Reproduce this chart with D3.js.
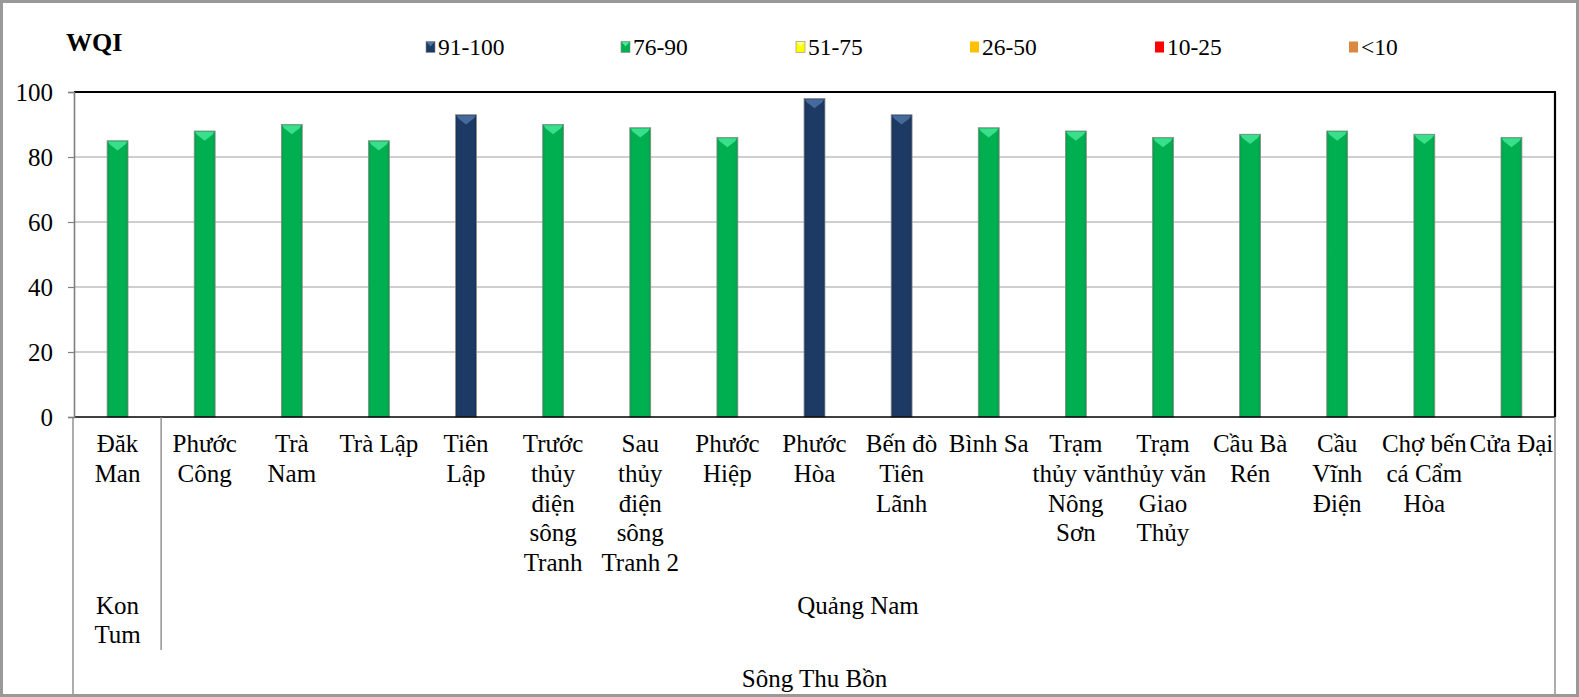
<!DOCTYPE html>
<html>
<head>
<meta charset="utf-8">
<script src="https://cdn.jsdelivr.net/npm/d3@7"></script>
<style>
  html, body { margin: 0; padding: 0; background: #fff; }
  svg { display: block; }
  svg text { font-family: "Liberation Serif", "Times New Roman", serif !important; fill: #000; }
</style>
</head>
<body>
<svg id="chart" width="1579" height="697"></svg>
<script>
// ---- data ----
const categories = [
  "Đăk\nMan", "Phước\nCông", "Trà\nNam", "Trà Lập", "Tiên\nLập",
  "Trước\nthủy\nđiện\nsông\nTranh", "Sau\nthủy\nđiện\nsông\nTranh 2",
  "Phước\nHiệp", "Phước\nHòa", "Bến đò\nTiên\nLãnh", "Bình Sa",
  "Trạm\nthủy văn\nNông\nSơn", "Trạm\nthủy văn\nGiao\nThủy",
  "Cầu Bà\nRén", "Cầu\nVĩnh\nĐiện", "Chợ bến\ncá Cẩm\nHòa", "Cửa Đại"
];
const wqiValues = [85, 88, 90, 85, 93, 90, 89, 86, 98, 93, 89, 88, 86, 87, 88, 87, 86];
const provinceNames = ["Kon\nTum", "Quảng Nam"];
const provinceSpans = [1, 16];
const riverName = "Sông Thu Bồn";
const legendLabels = ["91-100", "76-90", "51-75", "26-50", "10-25", "<10"];
const legendMins = [91, 76, 51, 26, 10, 0];
const yTicks = [0, 20, 40, 60, 80, 100];
const yTitle = "WQI";

(function () {
// ---- styles ----
const FONT = '"Liberation Serif", "Times New Roman", serif';
const classFill = ["#1D3A64", "#00B050", "#FFFF00", "#FFC000", "#FF0000", "#DA8740"];
const classBevel = ["#4E73A6", "#44E896", "#FFFF99", null, null, null];
const beveled = [true, true, true, false, false, false];

const svg = d3.select("#chart");
const W = 1579, H = 697;
const pL = 74, pR = 1555, pT = 92, pB = 417;

// outer frame
svg.append("rect").attr("x", 1.5).attr("y", 1.5).attr("width", W - 3).attr("height", H - 3)
  .attr("fill", "#fff").attr("stroke", "#999").attr("stroke-width", 3);

const x = d3.scaleBand().domain(d3.range(categories.length)).range([pL, pR]).padding(0);
const y = d3.scaleLinear().domain([0, 100]).range([pB, pT]);

function classOf(v) {
  for (let i = 0; i < legendMins.length; i++) if (v >= legendMins[i]) return i;
  return legendMins.length - 1;
}

// gridlines
svg.append("g").selectAll("line").data(yTicks.filter(t => t > 0 && t < 100)).join("line")
  .attr("x1", pL).attr("x2", pR).attr("y1", d => y(d)).attr("y2", d => y(d))
  .attr("stroke", "#BFBFBF").attr("stroke-width", 1.6);

// gradients for bars
const defs = svg.append("defs");
classFill.forEach((c, i) => {
  const g = defs.append("linearGradient").attr("id", "g" + i).attr("x1", "0").attr("x2", "1").attr("y1", "0").attr("y2", "0");
  const base = d3.color(c);
  g.append("stop").attr("offset", "0").attr("stop-color", base.darker(0.25));
  g.append("stop").attr("offset", "0.15").attr("stop-color", base);
  g.append("stop").attr("offset", "0.85").attr("stop-color", base);
  g.append("stop").attr("offset", "1").attr("stop-color", base.darker(0.3));
});

// bars
const barW = x.bandwidth() * 0.24;
const bars = svg.append("g").selectAll("g").data(wqiValues).join("g");
bars.append("rect")
  .attr("x", (d, i) => x(i) + x.bandwidth() / 2 - barW / 2)
  .attr("y", d => y(d))
  .attr("width", barW)
  .attr("height", d => y(0) - y(d))
  .attr("fill", d => "url(#g" + classOf(d) + ")")
  .attr("stroke", "#8A8A8A").attr("stroke-width", 0.8);
bars.append("path")
  .attr("d", (d, i) => {
    const x0 = x(i) + x.bandwidth() / 2 - barW / 2 + 0.8, x1 = x0 + barW - 1.6, t = y(d) + 0.8;
    const cx = (x0 + x1) / 2;
    return `M${x0},${t}L${x1},${t}L${x1 - 2},${t + 3}L${cx},${t + 9}L${x0 + 2},${t + 3}Z`;
  })
  .attr("fill", d => classBevel[classOf(d)]).attr("opacity", 0.85);

// plot frame
svg.append("line").attr("x1", pL).attr("x2", pR + 1).attr("y1", pT).attr("y2", pT).attr("stroke", "#000").attr("stroke-width", 2.2);
svg.append("line").attr("x1", pR).attr("x2", pR).attr("y1", pT).attr("y2", pB).attr("stroke", "#000").attr("stroke-width", 2.2);
svg.append("line").attr("x1", pL).attr("x2", pR).attr("y1", pB).attr("y2", pB).attr("stroke", "#000").attr("stroke-width", 1.6);

// y axis
const yAxis = svg.append("g").attr("transform", `translate(${pL},0)`)
  .call(d3.axisLeft(y).tickValues(yTicks).tickSize(6).tickPadding(15).tickFormat(d3.format("d")))
  .attr("font-family", FONT);
yAxis.select(".domain").attr("stroke", "#7F7F7F").attr("stroke-width", 1.6);
yAxis.selectAll(".tick line").attr("stroke", "#7F7F7F").attr("stroke-width", 1.2);
yAxis.selectAll(".tick text").attr("font-size", 25).style("font-family", FONT).attr("fill", "#000").attr("dy", "0.34em");

// y title
svg.append("text").attr("x", 66).attr("y", 51).attr("font-size", 26).attr("font-weight", "bold")
  .style("font-family", FONT).text(yTitle);

// category lines
const catLineColor = "#808080";
svg.append("line").attr("x1", pL - 1).attr("x2", pL - 1).attr("y1", pB).attr("y2", H - 3).attr("stroke", catLineColor).attr("stroke-width", 1.3);
svg.append("line").attr("x1", pR).attr("x2", pR).attr("y1", pB).attr("y2", H - 3).attr("stroke", catLineColor).attr("stroke-width", 1.3);

// category labels
const lineH = 29.8;
const catG = svg.append("g").selectAll("text").data(categories).join("text")
  .attr("x", (d, i) => x(i) + x.bandwidth() / 2)
  .attr("y", 452)
  .attr("text-anchor", "middle").attr("font-size", 25).style("font-family", FONT);
catG.each(function(d, i) {
  const t = d3.select(this);
  d.split("\n").forEach((ln, k) => {
    t.append("tspan").attr("x", x(i) + x.bandwidth() / 2).attr("y", 452 + k * lineH).text(ln);
  });
});

// province row
let startIdx = 0;
provinceNames.forEach((p, j) => {
  const i0 = startIdx, i1 = startIdx + provinceSpans[j] - 1;
  const x0 = x(i0), x1 = x(i1) + x.bandwidth();
  const t = svg.append("text").attr("text-anchor", "middle").attr("font-size", 25).style("font-family", FONT);
  p.split("\n").forEach((ln, k) => {
    t.append("tspan").attr("x", (x0 + x1) / 2).attr("y", 614 + k * 28.5).text(ln);
  });
  if (j > 0) {
    svg.append("line").attr("x1", x0).attr("x2", x0).attr("y1", pB).attr("y2", 650)
      .attr("stroke", catLineColor).attr("stroke-width", 1.3);
  }
  startIdx += provinceSpans[j];
});

// river row
svg.append("text").attr("x", (pL + pR) / 2).attr("y", 687).attr("text-anchor", "middle").attr("font-size", 25)
  .style("font-family", FONT).text(riverName);

// legend
const legendX = [426, 621, 796, 970, 1155, 1349];
const lg = svg.append("g").selectAll("g").data(legendLabels).join("g")
  .attr("transform", (d, i) => `translate(${legendX[i]},0)`);
lg.append("rect").attr("x", 0).attr("y", 41.5).attr("width", 9).attr("height", 11)
  .attr("fill", (d, i) => classFill[i])
  .attr("stroke", (d, i) => beveled[i] ? "#8A8A8A" : "none").attr("stroke-width", 0.6);
lg.filter((d, i) => beveled[i]).append("path")
  .attr("d", "M0.6,42.1L8.4,42.1L4.5,46.5Z")
  .attr("fill", d => classBevel[legendLabels.indexOf(d)]);
lg.append("text").attr("x", 12).attr("y", 55).attr("font-size", 23.5).style("font-family", FONT).text(d => d);
})();
</script>
</body>
</html>
